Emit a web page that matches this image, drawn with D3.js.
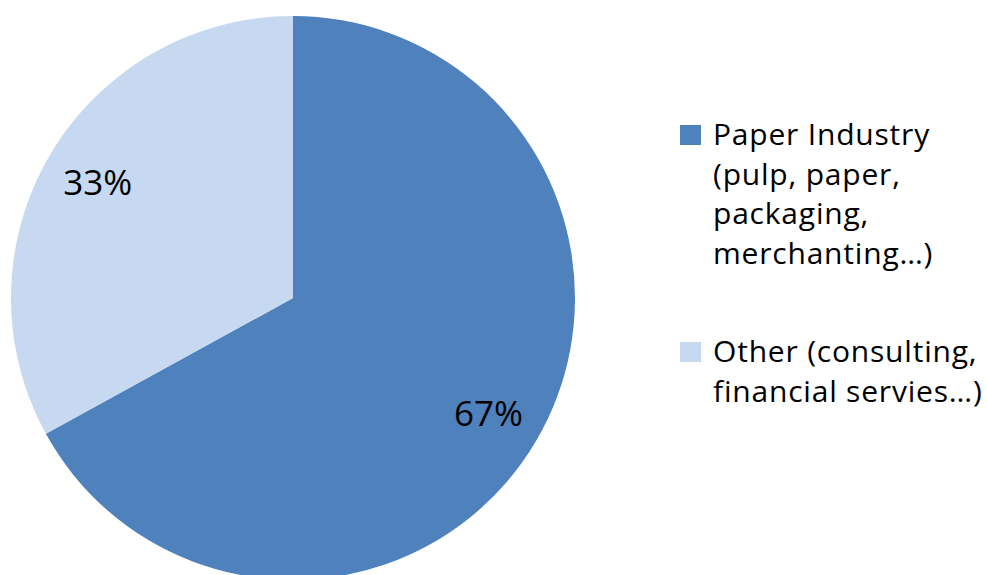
<!DOCTYPE html>
<html>
<head>
<meta charset="utf-8">
<script src="https://cdn.jsdelivr.net/npm/d3@7"></script>
<style>
  html, body { margin: 0; padding: 0; background: #ffffff; }
  svg { display: block; }
  text { font-family: "Open Sans", Lato, sans-serif; fill: #000; }
</style>
</head>
<body>
<svg id="chart" width="987" height="575"></svg>
<script>
// Share of members by sector
const categories = [
  "Paper Industry (pulp, paper, packaging, merchanting…)",
  "Other (consulting, financial servies…)"
];
const values = [67, 33];
const colors = ["#4F81BD", "#C6D9F1"];
const legendLines = [
  ["Paper Industry", "(pulp, paper,", "packaging,", "merchanting…)"],
  ["Other (consulting,", "financial servies…)"]
];

const svg = d3.select("#chart");
const cx = 293, cy = 298, radius = 282;

const pie = d3.pie().sort(null).value(d => d.value);
const data = pie(values.map((v, i) => ({ value: v, name: categories[i], color: colors[i] })));

const arc = d3.arc().innerRadius(0).outerRadius(radius);
const labelArc = d3.arc().innerRadius(227).outerRadius(227);

const g = svg.append("g").attr("transform", `translate(${cx},${cy})`);

g.selectAll("path.slice")
  .data(data)
  .join("path")
  .attr("class", "slice")
  .attr("d", arc)
  .attr("fill", d => d.data.color);

g.selectAll("text.pct")
  .data(data)
  .join("text")
  .attr("class", "pct")
  .attr("transform", d => {
    const [x, y] = labelArc.centroid(d);
    return `translate(${x},${y + 12.5})`;
  })
  .attr("text-anchor", "middle")
  .style("font-size", "35px")
  .text(d => Math.round(d.data.value) + "%");

// Legend
const legend = svg.append("g");
const legendTops = [125, 342];
const lineGap = 39.5;

legendLines.forEach((lines, i) => {
  const item = legend.append("g").attr("transform", `translate(680,${legendTops[i]})`);
  item.append("rect")
    .attr("width", 21).attr("height", 20)
    .attr("fill", colors[i]);
  const t = item.append("text")
    .attr("x", 33)
    .style("font-size", "30px")
    .style("letter-spacing", "0.8px");
  lines.forEach((line, j) => {
    t.append("tspan")
      .attr("x", 33)
      .attr("y", 20 + j * lineGap)
      .text(line);
  });
});
</script>
</body>
</html>
